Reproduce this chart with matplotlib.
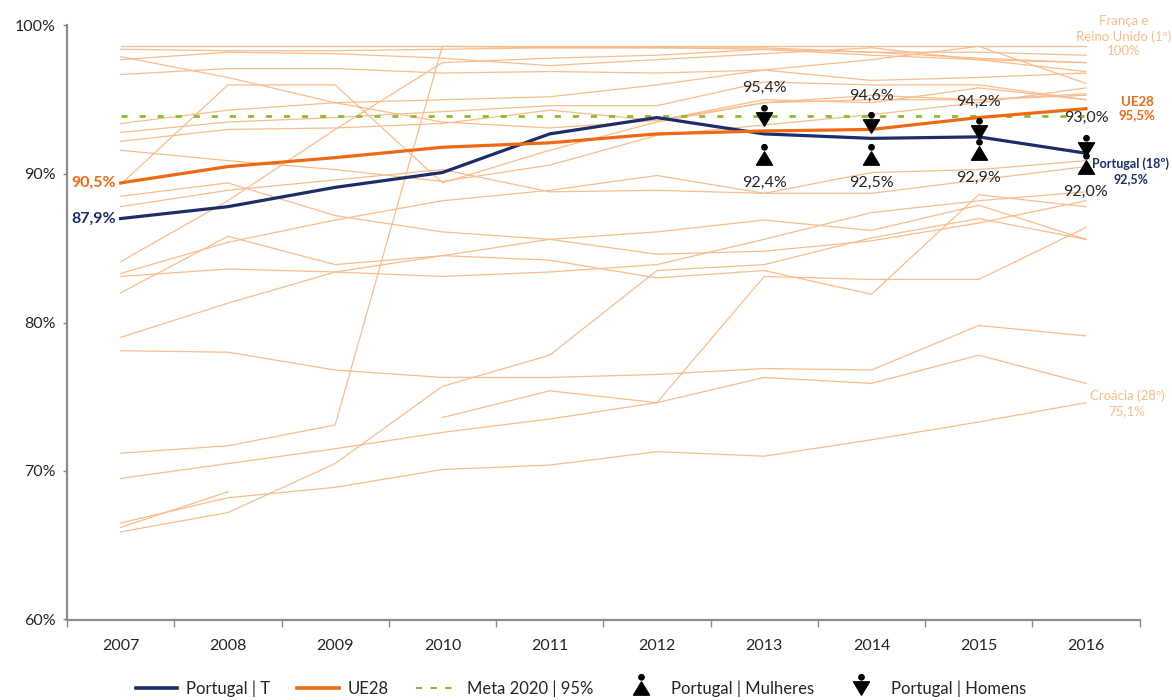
import matplotlib
matplotlib.use("Agg")
import matplotlib.pyplot as plt
from matplotlib.path import Path
from matplotlib.lines import Line2D
import numpy as np

plt.rcParams['font.family'] = ['Lato', 'DejaVu Sans']

# ---------------- data ----------------
years = ['2007', '2008', '2009', '2010', '2011', '2012', '2013', '2014', '2015', '2016']
portugal = [87.0, 87.8, 89.1, 90.1, 92.7, 93.8, 92.7, 92.4, 92.5, 91.4]
ue28 = [89.4, 90.5, 91.1, 91.8, 92.1, 92.7, 92.9, 93.0, 93.8, 94.4]
meta_2020 = 93.9

sex_years = ['2013', '2014', '2015', '2016']
homens = [93.7, 93.2, 92.8, 91.7]
mulheres = [91.1, 91.1, 91.4, 90.5]
homens_labels = ['95,4%', '94,6%', '94,2%', '93,0%']
mulheres_labels = ['92,4%', '92,5%', '92,9%', '92,0%']

N = None
countries = [
    [98.6, 98.6, 98.6, 98.6, 98.6, 98.6, 98.6, 98.6, 98.6, 98.6],   # França / Reino Unido
    [98.4, 98.3, 98.3, 98.4, 98.5, 98.5, 98.5, 98.2, 97.8, 97.5],
    [97.9, 96.5, 94.8, 93.5, 93.1, 93.6, 94.8, 95.0, 95.0, 95.4],
    [97.7, 98.2, 98.1, 97.8, 97.3, 97.7, 98.1, 98.5, 97.7, 96.9],
    [96.7, 97.1, 97.1, 96.8, 96.9, 96.8, 97.0, 96.3, 96.5, 96.8],
    [93.4, 94.3, 94.8, 95.0, 95.2, 96.0, 97.0, 97.7, 98.6, 96.1],
    [92.8, 93.5, 93.8, 94.2, 94.6, 94.6, 96.2, 96.0, 96.0, 95.0],
    [92.2, 93.0, 93.1, 93.4, 94.3, 93.6, 95.0, 94.8, 95.8, 95.0],
    [91.6, 90.9, 90.3, 89.5, 90.6, 92.6, 93.3, 94.0, 94.8, 95.8],
    [89.3, 96.0, 96.0, 89.4, 91.6, 93.5, 94.8, 95.3, 95.0, 95.3],
    [88.5, 89.4, 87.2, 86.1, 85.6, 84.6, 84.8, 85.5, 86.7, 88.2],
    [87.8, 88.9, 89.6, 90.3, 88.8, 88.9, 88.7, 90.1, 90.3, 90.9],
    [84.1, 88.2, 93.0, 97.5, 97.8, 98.0, 98.4, 98.0, 97.7, 97.5],
    [83.3, 85.4, 86.9, 88.2, 88.9, 89.9, 88.7, 88.7, 89.6, 90.5],
    [83.1, 83.6, 83.4, 83.1, 83.4, 83.9, 85.6, 87.4, 88.2, 88.8],
    [82.0, 85.8, 83.9, 84.5, 84.2, 83.0, 83.5, 81.9, 88.6, 87.8],
    [79.0, 81.3, 83.4, 84.5, 85.6, 86.1, 86.9, 86.2, 87.9, 85.6],
    [78.1, 78.0, 76.8, 76.3, 76.3, 76.5, 76.9, 76.8, 79.8, 79.1],
    [71.2, 71.7, 73.1, 98.6, 98.5, 98.5, 98.4, 98.2, 98.2, 98.0],
    [69.5, 70.5, 71.5, 72.6, 73.5, 74.6, 83.1, 82.9, 82.9, 86.4],
    [66.5, 68.2, 68.9, 70.1, 70.4, 71.3, 71.0, 72.1, 73.3, 74.6],   # Croácia
    [66.2, 68.6, N, N, N, N, N, N, N, N],
    [65.9, 67.2, 70.5, 75.7, 77.8, 83.5, 83.9, 85.7, 87.0, 85.6],
    [N, N, N, 73.6, 75.4, 74.6, 76.3, 75.9, 77.8, 75.9],
]
croatia = countries[20]
top_country = countries[0]

# ---------------- style ----------------
navy = '#1C2D69'
orange = '#EE6A12'
green = '#8DBB2A'
light = '#F8BD8D'
label_light = '#F7BC8C'
text_col = '#262626'
axis_col = '#8C8C8C'

fig = plt.figure(figsize=(11.72, 7.0), dpi=100)
ax = fig.add_axes([67 / 1172, 1 - 619.5 / 700, (1139.6 - 67) / 1172, (619.5 - 25.5) / 700])

x = np.arange(len(years))

for c in countries:
    vals = np.array([np.nan if v is None else v for v in c], dtype=float)
    ax.plot(x, vals, color=light, lw=0.9, zorder=1, solid_joinstyle='miter')

ax.plot([x[0], x[-1]], [meta_2020, meta_2020], color=green, lw=2.0,
        linestyle=(0, (2.2, 4.3)), zorder=2)
ax.plot(x, portugal, color=navy, lw=2.3, zorder=3)
ax.plot(x, ue28, color=orange, lw=2.3, zorder=4)

# custom markers: triangle + dot (person icons)
def person_marker(up):
    if up:
        tri = Path([(-0.6, -0.5), (0.6, -0.5), (0.0, 0.5), (-0.6, -0.5)],
                   [Path.MOVETO, Path.LINETO, Path.LINETO, Path.CLOSEPOLY])
    else:
        tri = Path([(-0.6, 0.5), (0.6, 0.5), (0.0, -0.5), (-0.6, 0.5)],
                   [Path.MOVETO, Path.LINETO, Path.LINETO, Path.CLOSEPOLY])
    circ = Path.circle(center=(0.0, 0.84), radius=0.2)
    return Path.make_compound_path(tri, circ)

m_up = person_marker(True)
m_down = person_marker(False)
ms = 20

sx = [years.index(y) for y in sex_years]
ax.plot(sx, mulheres, linestyle='none', marker=m_up, ms=ms, color='black', zorder=6)
ax.plot(sx, homens, linestyle='none', marker=m_down, ms=ms, color='black', zorder=6)

for xi, v, lab in zip(sx, homens, homens_labels):
    ax.annotate(lab, xy=(xi, v), xytext=(0, 31), textcoords='offset pixels',
                ha='center', va='center', fontsize=11.5, color=text_col, zorder=7)
for xi, v, lab in zip(sx, mulheres, mulheres_labels):
    ax.annotate(lab, xy=(xi, v), xytext=(0, -25), textcoords='offset pixels',
                ha='center', va='center', fontsize=11.5, color=text_col, zorder=7)

# start / end labels
ax.annotate('90,5%', xy=(0, ue28[0]), xytext=(-5, 0), textcoords='offset pixels',
            ha='right', va='center', fontsize=11.5, fontweight='bold', color=orange)
ax.annotate('87,9%', xy=(0, portugal[0]), xytext=(-5, 0), textcoords='offset pixels',
            ha='right', va='center', fontsize=11.5, fontweight='bold', color=navy)
ax.annotate('UE28\n95,5%', xy=(9, ue28[-1]), xytext=(51, 0), textcoords='offset pixels',
            ha='center', va='center', fontsize=9.5, fontweight='bold', color=orange,
            linespacing=1.1, annotation_clip=False)
ax.annotate('Portugal (18º)\n92,5%', xy=(9, portugal[-1]), xytext=(45, -18),
            textcoords='offset pixels', ha='center', va='center', fontsize=9,
            fontweight='bold', color=navy, linespacing=1.3, annotation_clip=False)
ax.annotate('França e\nReino Unido (1º)\n100%', xy=(9, top_country[-1]), xytext=(38, 10),
            textcoords='offset pixels', ha='center', va='center', fontsize=9.5,
            color=label_light, linespacing=1.25, annotation_clip=False)
ax.annotate('Croácia (28º)\n75,1%', xy=(9, croatia[-1]), xytext=(41, -1),
            textcoords='offset pixels', ha='center', va='center', fontsize=9.5,
            color=label_light, linespacing=1.3, annotation_clip=False)

# axes
ax.set_xlim(-0.5, 9.5)
ax.set_ylim(60, 100)
ax.set_xticks(x)
ax.set_xticklabels(years)
ax.set_xticks(np.arange(-0.5, 10, 1), minor=True)
ax.tick_params(axis='x', which='major', length=0, pad=14, labelsize=11.5, labelcolor=text_col)
ax.tick_params(axis='x', which='minor', length=5, width=1, color=axis_col, direction='out')
yt = [60, 70, 80, 90, 100]
ax.set_yticks(yt)
ax.set_yticklabels([f'{v}%' for v in yt])
ax.tick_params(axis='y', which='major', length=3, width=1, color=axis_col, pad=5,
               labelsize=11.5, labelcolor=text_col)
for s in ['top', 'right']:
    ax.spines[s].set_visible(False)
for s in ['left', 'bottom']:
    ax.spines[s].set_color(axis_col)
    ax.spines[s].set_linewidth(1.6)

# legend
handles = [
    Line2D([], [], color=navy, lw=2.6),
    Line2D([], [], color=orange, lw=2.6),
    Line2D([], [], color=green, lw=1.5, linestyle=(0, (3, 4))),
    Line2D([], [], color='black', linestyle='none', marker=m_up, ms=ms),
    Line2D([], [], color='black', linestyle='none', marker=m_down, ms=ms),
]
labels = ['Portugal | T', 'UE28', 'Meta 2020 | 95%', 'Portugal | Mulheres', 'Portugal | Homens']
fig.legend(handles, labels, loc='center', bbox_to_anchor=(0.4957, 0.016),
           bbox_transform=fig.transFigure, ncol=5, frameon=False, fontsize=12,
           handlelength=2.5, columnspacing=1.6, handletextpad=0.55, labelcolor=text_col)

fig.savefig('out.png', dpi=100)
